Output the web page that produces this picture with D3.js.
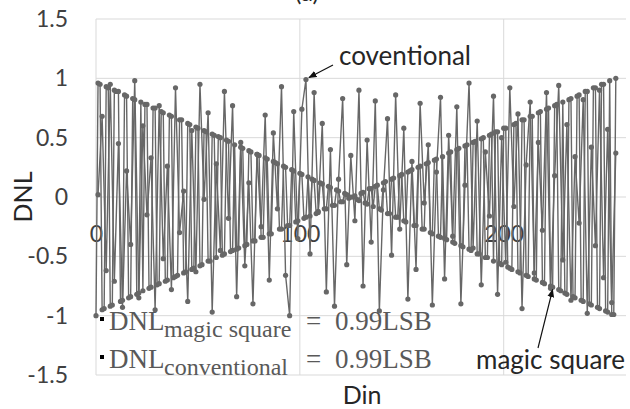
<!DOCTYPE html>
<html>
<head>
<meta charset="utf-8">
<script src="https://cdn.jsdelivr.net/npm/d3@7"></script>
<style>
  body { margin: 0; background: #fff; }
  text { font-family: Lato, "Open Sans", sans-serif; }
</style>
</head>
<body>
<div id="chart"></div>
<script>
// magic square DNL, read at Din = 0, 1, 2, ... 255
const magicSquare = [
  -1.00, 0.96, 0.95, -0.95, -0.94, 0.93, 0.92, -0.92, -0.91, 0.90, 0.89, 0.89, -0.88, -0.87, 0.86, 0.85,
  -0.85, -0.84, 0.83, 0.82, -0.82, -0.81, 0.80, -0.79, 0.78, 0.78, -0.77, -0.76, 0.75, 0.75, -0.74, -0.73,
  0.72, 0.71, -0.71, -0.70, 0.69, 0.68, -0.68, -0.67, -0.66, 0.65, 0.65, -0.64, -0.63, 0.62, 0.61, -0.61,
  -0.60, 0.59, 0.58, -0.58, -0.57, 0.56, 0.55, -0.54, -0.54, 0.53, 0.52, -0.51, 0.51, 0.50, -0.49, -0.48,
  0.48, 0.47, -0.46, -0.45, 0.44, -0.44, -0.43, 0.42, 0.41, -0.41, -0.40, 0.39, 0.38, -0.37, -0.37, 0.36,
  0.35, -0.34, -0.34, 0.33, 0.32, -0.31, -0.31, 0.30, 0.29, 0.28, -0.27, -0.27, 0.26, 0.25, -0.24, -0.24,
  0.23, 0.22, -0.21, -0.20, 0.20, 0.19, -0.18, -0.17, 0.17, -0.16, 0.15, 0.14, -0.14, -0.13, 0.12, 0.11,
  -0.10, -0.10, 0.09, 0.08, -0.07, -0.07, 0.06, 0.05, -0.04, -0.04, 0.03, 0.02, -0.01, 0.00, 0.00, 0.01,
  -0.02, -0.03, 0.03, 0.04, -0.05, -0.06, 0.07, 0.07, -0.08, 0.09, 0.10, -0.10, -0.11, 0.12, 0.13, -0.14,
  -0.14, 0.15, 0.16, -0.17, -0.17, 0.18, 0.19, -0.20, -0.21, 0.21, 0.22, 0.23, -0.24, -0.24, 0.25, 0.26,
  -0.27, -0.27, 0.28, 0.29, -0.30, -0.31, 0.31, 0.32, -0.33, -0.34, 0.34, -0.35, -0.36, 0.37, 0.38, -0.38,
  -0.39, 0.40, 0.41, -0.41, -0.42, 0.43, 0.44, -0.44, -0.45, 0.46, 0.47, -0.48, -0.48, 0.49, 0.50, -0.51,
  -0.51, 0.52, 0.53, -0.54, 0.55, 0.55, -0.56, -0.57, 0.58, 0.58, -0.59, -0.60, -0.61, 0.61, 0.62, -0.63,
  -0.64, 0.65, 0.65, -0.66, -0.67, 0.68, 0.68, -0.69, -0.70, 0.71, 0.72, -0.72, -0.73, 0.74, 0.75, -0.75,
  -0.76, 0.77, 0.78, -0.78, -0.79, 0.80, -0.81, -0.82, 0.82, 0.83, -0.84, -0.85, 0.85, 0.86, -0.87, -0.88,
  0.89, 0.89, -0.90, -0.91, 0.92, 0.92, -0.93, -0.94, 0.95, 0.95, -0.96, -0.97, 0.98, -0.99, -0.99, 1.00
];

// conventional DNL, read at Din = 1, 3, 5, ... 255
const conventional = [
  0.02, 0.68, -0.62, 0.95, -0.71, 0.45, -0.93, 0.22,
  -0.40, 0.98, -0.85, 0.60, -0.15, 0.33, -0.95, 0.77,
  -0.52, 0.26, -0.78, 0.92, -0.30, 0.05, -0.88, 0.56,
  -0.63, 0.95, -0.02, 0.71, -0.97, 0.28, -0.45, 0.89,
  -0.18, 0.77, -0.84, 0.46, -0.58, 0.12, -0.90, 0.36,
  -0.25, 0.69, -0.70, 0.54, -0.10, 0.93, -0.66, -1.00,
  0.72, -0.35, 0.74, 0.99, -0.48, 0.88, -0.12, 0.62,
  -0.80, 0.40, -0.92, 0.15, 0.83, -0.57, 0.35, -0.20,
  0.90, -0.75, 0.48, -0.38, 0.81, -0.96, 0.06, 0.66,
  -0.49, 0.86, -0.27, 0.58, -0.86, 0.30, -0.61, 0.79,
  -0.05, 0.44, -0.91, 0.21, 0.84, -0.69, 0.52, -0.33,
  0.76, -0.90, 0.10, 0.96, -0.43, 0.64, -0.74, 0.38,
  -0.16, 0.85, -0.82, 0.50, -0.55, 0.92, -0.08, 0.70,
  -0.94, 0.27, 0.80, -0.64, 0.46, -0.28, 0.88, -0.77,
  0.18, 0.94, -0.53, 0.61, -0.87, 0.34, -0.22, 0.82,
  -0.98, 0.42, -0.41, 0.90, -0.68, 0.57, -0.89, 0.37
];

const xTicks = [0, 100, 200];
const yTicks = [-1.5, -1, -0.5, 0, 0.5, 1, 1.5];

const width = 630, height = 409;
const lineColor = '#676767';
const gridColor = '#d9d9d9';

const svg = d3.select('#chart').append('svg')
    .attr('width', width)
    .attr('height', height);

const x = d3.scaleLinear().domain([0, 260]).range([96, 626]);
const y = d3.scaleLinear().domain([-1.5, 1.5]).range([375, 19]);

// gridlines
svg.append('g').selectAll('line')
    .data(yTicks)
    .enter().append('line')
    .attr('x1', x(0)).attr('x2', x(260))
    .attr('y1', d => y(d)).attr('y2', d => y(d))
    .attr('stroke', gridColor).attr('stroke-width', 1);

svg.append('g').selectAll('line')
    .data(xTicks)
    .enter().append('line')
    .attr('x1', d => x(d)).attr('x2', d => x(d))
    .attr('y1', y(1.5)).attr('y2', y(-1.5))
    .attr('stroke', gridColor).attr('stroke-width', 1);

// axes (labels only)
const yAxis = svg.append('g')
    .attr('transform', `translate(${x(0)},0)`)
    .call(d3.axisLeft(y).tickValues(yTicks).tickSize(0).tickPadding(28).tickFormat(d => String(d)));
yAxis.select('.domain').remove();
yAxis.selectAll('text')
    .style('font-family', 'Lato, sans-serif')
    .attr('font-size', 23).attr('fill', '#404040');

const xAxis = svg.append('g')
    .attr('transform', `translate(0,${y(0) + 29})`)
    .call(d3.axisBottom(x).tickValues(xTicks).tickSize(0).tickPadding(0).tickFormat(d => String(d)));
xAxis.select('.domain').remove();
xAxis.selectAll('text')
    .style('font-family', 'Lato, sans-serif')
    .attr('font-size', 23).attr('fill', '#404040');

// series
function drawSeries(values, din) {
    const line = d3.line()
        .x((d, i) => x(din(i)))
        .y(d => y(d));
    const g = svg.append('g');
    g.append('path')
        .datum(values)
        .attr('d', line)
        .attr('fill', 'none')
        .attr('stroke', lineColor)
        .attr('stroke-width', 1.4);
    g.selectAll('circle')
        .data(values)
        .enter().append('circle')
        .attr('cx', (d, i) => x(din(i)))
        .attr('cy', d => y(d))
        .attr('r', 2.6)
        .attr('fill', lineColor);
}
drawSeries(conventional, i => 2 * i + 1);
drawSeries(magicSquare, i => i);

// title, partly off the top as in the source figure
svg.append('text')
    .attr('x', 307).attr('y', 1)
    .attr('text-anchor', 'middle')
    .attr('font-size', 24).attr('fill', '#262626')
    .text('(a)');

// axis titles
svg.append('text')
    .attr('transform', 'translate(32,197) rotate(-90)')
    .attr('text-anchor', 'middle')
    .attr('font-size', 25).attr('fill', '#262626')
    .text('DNL');

svg.append('text')
    .attr('x', 362).attr('y', 404)
    .attr('text-anchor', 'middle')
    .attr('font-size', 25).attr('fill', '#262626')
    .text('Din');

// arrows and annotation labels
svg.append('defs').append('marker')
    .attr('id', 'arrow')
    .attr('viewBox', '0 0 10 10')
    .attr('refX', 9).attr('refY', 5)
    .attr('markerWidth', 7).attr('markerHeight', 7)
    .attr('orient', 'auto')
    .append('path')
    .attr('d', 'M0,1 L10,5 L0,9 Z')
    .attr('fill', '#111');

svg.append('line')
    .attr('x1', 333).attr('y1', 65)
    .attr('x2', x(103) + 3).attr('y2', y(0.99) - 2)
    .attr('stroke', '#111').attr('stroke-width', 1.2)
    .attr('marker-end', 'url(#arrow)');

svg.append('text')
    .attr('x', 339).attr('y', 65)
    .attr('font-size', 26).attr('fill', '#262626')
    .text('coventional');

svg.append('line')
    .attr('x1', 538).attr('y1', 348)
    .attr('x2', x(224)).attr('y2', y(-0.78))
    .attr('stroke', '#111').attr('stroke-width', 1.2)
    .attr('marker-end', 'url(#arrow)');

svg.append('text')
    .attr('x', 476).attr('y', 369)
    .attr('font-size', 26).attr('fill', '#262626')
    .text('magic square');

// DNL result text boxes
const serif = '"Liberation Serif", "DejaVu Serif", serif';
const notes = [
    { sub: 'magic square', base: 330 },
    { sub: 'conventional', base: 368 }
];
notes.forEach(n => {
    svg.append('rect')
        .attr('x', 100).attr('y', n.base - 13)
        .attr('width', 4).attr('height', 4)
        .attr('fill', '#000');
    svg.append('text')
        .attr('x', 109).attr('y', n.base)
        .style('font-family', serif)
        .attr('font-size', 27).attr('fill', '#595959')
        .text('DNL');
    svg.append('text')
        .attr('x', 164).attr('y', n.base + 7)
        .style('font-family', serif)
        .attr('font-size', 24).attr('fill', '#595959')
        .text(n.sub);
    svg.append('text')
        .attr('x', 306).attr('y', n.base)
        .style('font-family', serif)
        .attr('font-size', 27).attr('fill', '#595959')
        .text('=');
    svg.append('text')
        .attr('x', 335).attr('y', n.base)
        .style('font-family', serif)
        .attr('font-size', 27).attr('fill', '#595959')
        .text('0.99LSB');
});
</script>
</body>
</html>
